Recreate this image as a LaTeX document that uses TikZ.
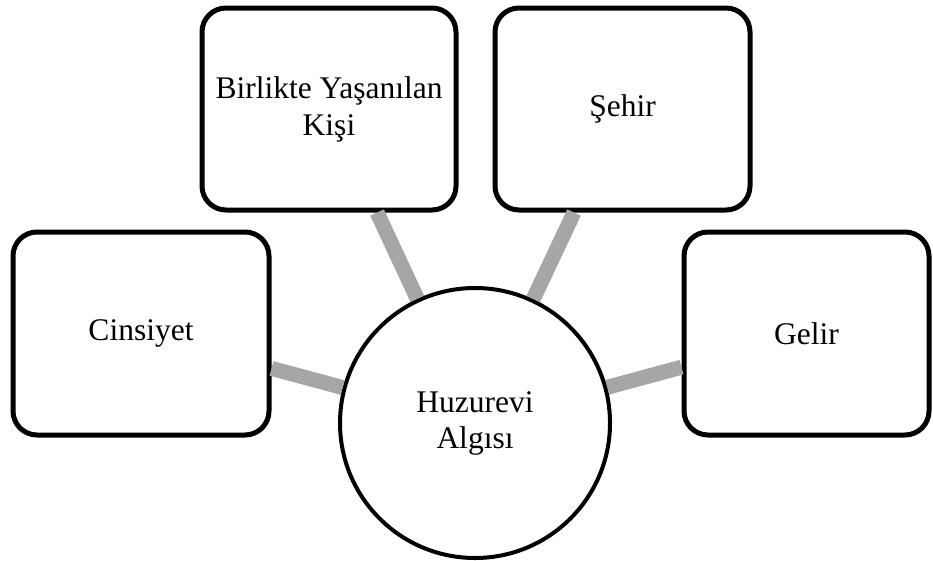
\documentclass[tikz,border=0pt]{standalone}
\usepackage{fontspec}
\setmainfont{Liberation Serif}
\definecolor{bagGray}{HTML}{A6A6A6}

\begin{document}
\begin{tikzpicture}[x=1pt,y=-1pt,
  kutu/.style={draw, line width=5pt, rounded corners=24pt, fill=white, align=center,
    font=\fontsize{31.5}{37}\selectfont, minimum height=203pt, inner sep=0pt},
  merkez/.style={draw, circle, line width=4pt, fill=white, align=center,
    font=\fontsize{31.5}{36}\selectfont, minimum size=270pt, inner sep=0pt},
  bag/.style={bagGray, line width=15pt}]
\useasboundingbox (0,0) rectangle (933,560);
\node[merkez] (algi) at (475,423) {Huzurevi\\Algısı};
\node[kutu, minimum width=256pt] (cinsiyet) at (141,333.5) {Cinsiyet};
\node[kutu, minimum width=254pt, minimum height=202pt] (kisi) at (329,109) {Birlikte Yaşanılan\\Kişi};
\node[kutu, minimum width=255pt, minimum height=202pt] (sehir) at (622.5,109) {Şehir};
\node[kutu, minimum width=245pt] (gelir) at (806.5,333.5) {Gelir};
\draw[bag] (cinsiyet) -- (algi);
\draw[bag] (kisi) -- (algi);
\draw[bag] (sehir) -- (algi);
\draw[bag] (gelir) -- (algi);
\end{tikzpicture}
\end{document}
